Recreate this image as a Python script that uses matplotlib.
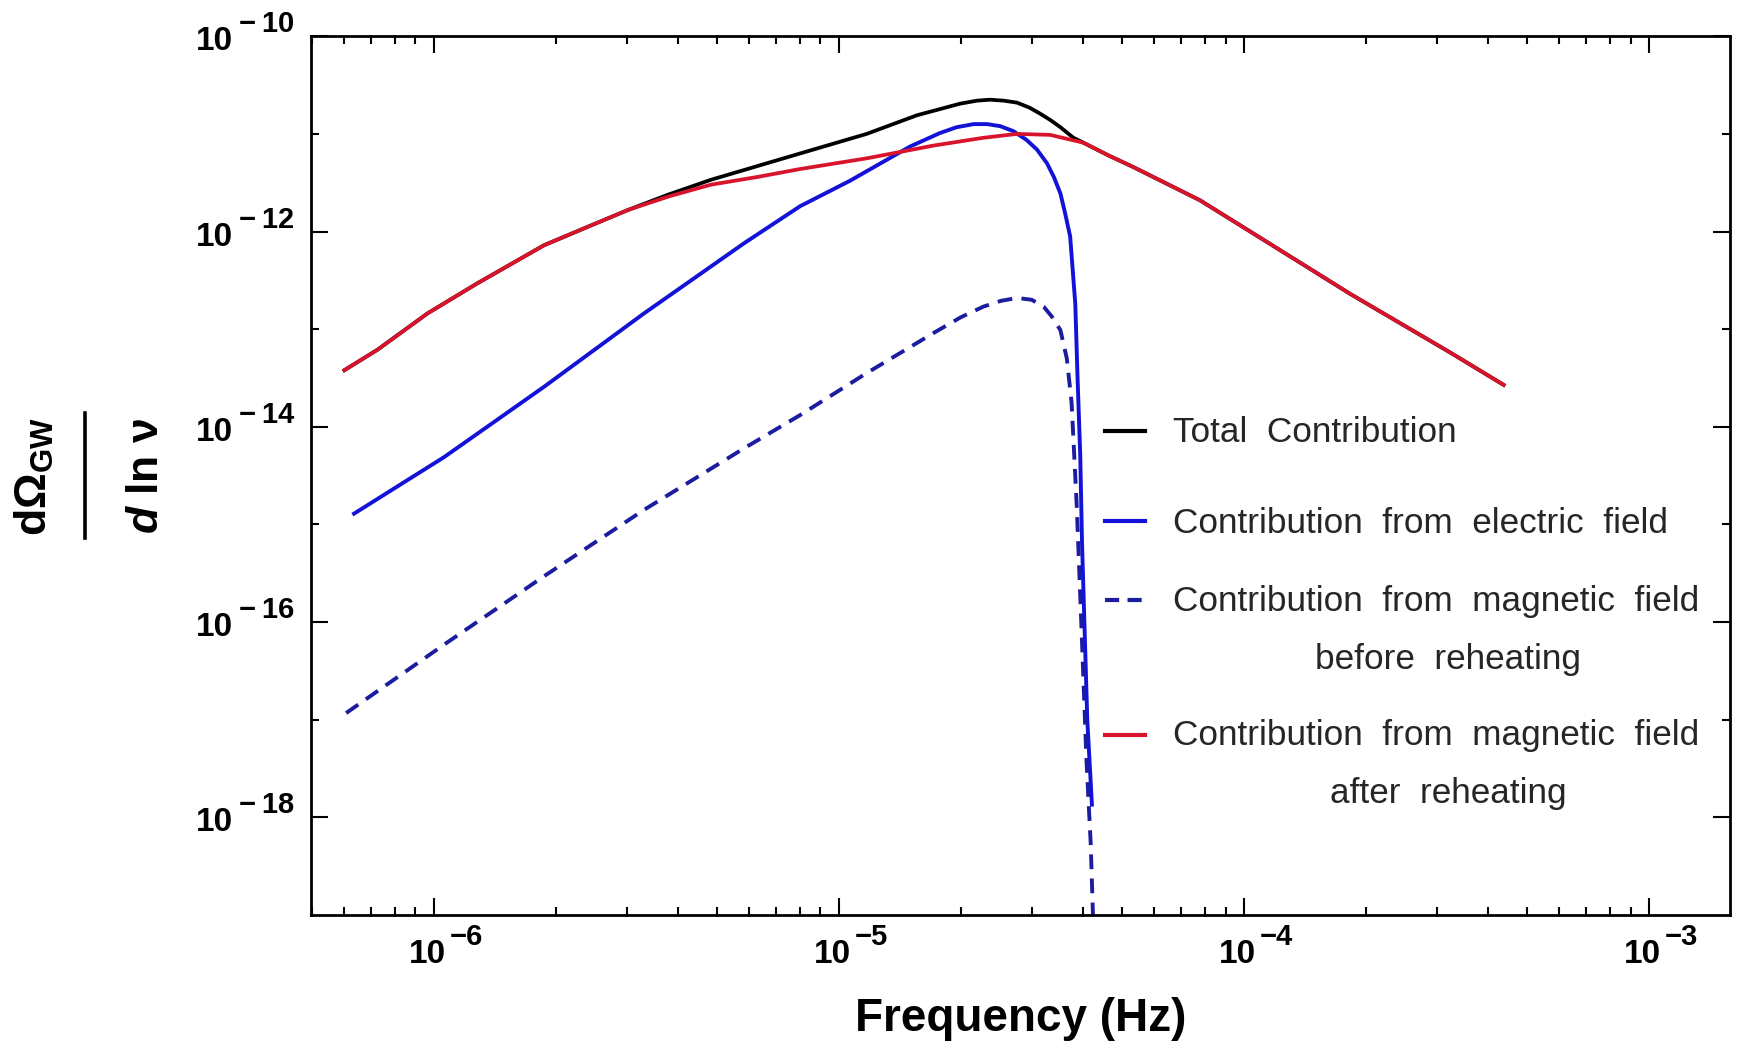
import matplotlib
matplotlib.use('Agg')
import matplotlib.pyplot as plt
from matplotlib.lines import Line2D
from matplotlib.ticker import FixedLocator, LogLocator, NullFormatter
from matplotlib.transforms import blended_transform_factory, offset_copy

plt.rcParams['font.family'] = ['Liberation Sans', 'DejaVu Sans']
plt.rcParams['mathtext.fontset'] = 'custom'
plt.rcParams['mathtext.rm'] = 'Liberation Sans'
plt.rcParams['mathtext.it'] = 'Liberation Sans:italic'
plt.rcParams['mathtext.bf'] = 'Liberation Sans:bold'
plt.rcParams['mathtext.bfit'] = 'Liberation Sans:bold:italic'

# values (frequency in Hz, dOmega/dln nu)
freq_total = [6.01e-7, 7.26e-7, 9.64e-7, 1.28e-6, 1.87e-6, 2.40e-6, 3.01e-6, 3.80e-6, 4.83e-6,
              8.02e-6, 1.17e-5, 1.556e-5, 1.99e-5, 2.19e-5, 2.36e-5, 2.55e-5, 2.75e-5, 2.95e-5,
              3.13e-5, 3.33e-5, 3.52e-5, 3.79e-5, 4.01e-5, 4.62e-5, 5.33e-5, 7.78e-5, 1.035e-4,
              1.83e-4, 3.23e-4, 4.37e-4]
omega_total = [3.80e-14, 6.17e-14, 1.45e-13, 2.95e-13, 7.24e-13, 1.12e-12, 1.66e-12, 2.40e-12, 3.39e-12,
               6.31e-12, 1.00e-11, 1.55e-11, 2.04e-11, 2.19e-11, 2.24e-11, 2.19e-11, 2.09e-11, 1.86e-11,
               1.62e-11, 1.38e-11, 1.17e-11, 9.12e-12, 8.13e-12, 6.03e-12, 4.57e-12, 2.09e-12, 1.00e-12,
               2.29e-13, 5.75e-14, 2.69e-14]

freq_electric = [6.35e-7, 1.06e-6, 1.87e-6, 3.30e-6, 5.83e-6, 8.02e-6, 1.064e-5, 1.496e-5,
                 1.774e-5, 1.95e-5, 2.15e-5, 2.32e-5, 2.50e-5, 2.69e-5, 2.90e-5, 3.08e-5,
                 3.26e-5, 3.39e-5, 3.52e-5, 3.61e-5, 3.72e-5, 3.83e-5,
                 3.88e-5, 3.94e-5, 3.98e-5, 4.04e-5, 4.10e-5, 4.21e-5]
omega_electric = [1.29e-15, 4.90e-15, 2.57e-14, 1.45e-13, 7.59e-13, 1.82e-12, 3.31e-12, 7.41e-12,
                  1.02e-11, 1.17e-11, 1.26e-11, 1.26e-11, 1.20e-11, 1.07e-11, 8.71e-12, 6.92e-12,
                  5.01e-12, 3.63e-12, 2.45e-12, 1.58e-12, 8.91e-13, 1.82e-13,
                  3.16e-14, 5.01e-15, 6.31e-16, 7.94e-17, 1.00e-17, 1.35e-18]

freq_mag_before = [6.07e-7, 1.06e-6, 1.87e-6, 3.30e-6, 5.83e-6, 8.02e-6, 1.17e-5, 1.71e-5,
                   1.995e-5, 2.27e-5, 2.51e-5, 2.75e-5, 2.99e-5, 3.20e-5, 3.35e-5, 3.52e-5,
                   3.65e-5, 3.75e-5, 3.86e-5, 3.97e-5, 4.08e-5, 4.18e-5, 4.25e-5]
omega_mag_before = [1.17e-17, 5.89e-17, 2.95e-16, 1.41e-15, 6.03e-15, 1.32e-14, 3.55e-14, 9.12e-14,
                    1.32e-13, 1.70e-13, 1.95e-13, 2.09e-13, 2.00e-13, 1.70e-13, 1.35e-13, 9.77e-14,
                    5.01e-14, 1.78e-14, 1.62e-15, 8.13e-17, 3.98e-18, 5.50e-19, 6.3e-20]

freq_mag_after = [6.01e-7, 7.26e-7, 9.64e-7, 1.28e-6, 1.87e-6, 2.40e-6, 3.01e-6, 3.80e-6, 4.83e-6,
                  6.31e-6, 8.02e-6, 1.17e-5, 1.71e-5, 2.27e-5, 2.75e-5, 3.32e-5, 4.01e-5,
                  4.62e-5, 5.33e-5, 7.78e-5, 1.035e-4, 1.83e-4, 3.23e-4, 4.37e-4]
omega_mag_after = [3.80e-14, 6.17e-14, 1.45e-13, 2.95e-13, 7.24e-13, 1.12e-12, 1.66e-12, 2.29e-12, 3.02e-12,
                   3.63e-12, 4.37e-12, 5.62e-12, 7.59e-12, 9.12e-12, 1.00e-11, 9.77e-12, 8.13e-12,
                   6.03e-12, 4.57e-12, 2.09e-12, 1.00e-12, 2.29e-13, 5.75e-14, 2.69e-14]

x_major = [1e-6, 1e-5, 1e-4, 1e-3]
x_exponents = ['6', '5', '4', '3']
y_major = [1e-18, 1e-16, 1e-14, 1e-12, 1e-10]
y_exponents = ['18', '16', '14', '12', '10']
y_minor = [1e-17, 1e-15, 1e-13, 1e-11]

c_total = '#000000'
c_electric = '#1212d8'
c_before = '#1c1ca0'
c_after = '#d8142c'
c_text = '#262626'

fig = plt.figure(figsize=(17.37, 10.48), dpi=100)
ax = fig.add_axes([0.1790, 0.1269, 0.8168, 0.8385])

ax.plot(freq_total, omega_total, color=c_total, lw=2.7)
ax.plot(freq_electric, omega_electric, color=c_electric, lw=2.8)
ax.plot(freq_mag_before, omega_mag_before, color=c_before, lw=2.8, dashes=(3.8, 2.4))
ax.plot(freq_mag_after, omega_mag_after, color=c_after, lw=2.7)

ax.set_xscale('log')
ax.set_yscale('log')
ax.set_xlim(4.97e-7, 1.58e-3)
ax.set_ylim(1e-19, 1e-10)

ax.xaxis.set_major_locator(FixedLocator(x_major))
ax.xaxis.set_major_formatter(NullFormatter())
ax.xaxis.set_minor_locator(LogLocator(base=10, subs=range(2, 10), numticks=20))
ax.xaxis.set_minor_formatter(NullFormatter())
ax.yaxis.set_major_locator(FixedLocator(y_major))
ax.yaxis.set_major_formatter(NullFormatter())
ax.yaxis.set_minor_locator(FixedLocator(y_minor))
ax.yaxis.set_minor_formatter(NullFormatter())

ax.tick_params(which='both', direction='in', top=True, right=True, width=1.5, colors='black')
ax.tick_params(which='major', length=12)
ax.tick_params(which='minor', length=6)
for s in ax.spines.values():
    s.set_linewidth(2.0)

# tick labels in the "10 with raised exponent" style of the reference
ytr = blended_transform_factory(ax.transAxes, ax.transData)
for val, exp in zip(y_major, y_exponents):
    ax.text(0, val, '10', transform=offset_copy(ytr, fig=fig, x=-78, y=-14, units='dots'),
            ha='right', va='baseline', fontsize=24, fontweight='bold')
    ax.text(0, val, '\u2212\u2009' + exp, transform=offset_copy(ytr, fig=fig, x=-72, y=4, units='dots'),
            ha='left', va='baseline', fontsize=21, fontweight='bold')

xtr = blended_transform_factory(ax.transData, ax.transAxes)
for val, exp in zip(x_major, x_exponents):
    ax.text(val, 0, '10', transform=offset_copy(xtr, fig=fig, x=12, y=-48, units='dots'),
            ha='right', va='baseline', fontsize=24, fontweight='bold')
    ax.text(val, 0, '\u2212' + exp, transform=offset_copy(xtr, fig=fig, x=16, y=-30, units='dots'),
            ha='left', va='baseline', fontsize=21, fontweight='bold')

ax.set_xlabel('Frequency (Hz)', fontsize=33, fontweight='bold')
ax.xaxis.set_label_coords(0.5, -0.093)

# y label as a stacked fraction
fig.text(0.0196, 0.5455, r'$\mathbf{d\Omega_{GW}}$', rotation=90, fontsize=32,
         ha='center', va='center')
fig.add_artist(Line2D([0.0492, 0.0492], [0.4866, 0.6059], transform=fig.transFigure,
                      color='black', lw=2.6))
fig.text(0.0843, 0.5455, r'$\mathbfit{d}\ \mathbf{ln}\ \mathbf{\nu}$', rotation=90, fontsize=32,
         ha='center', va='center')

# legend drawn inside the axes, as in the reference
legend_rows = [
    ('Total  Contribution', None, c_total, '-', 0.551, 0.5386),
    ('Contribution  from  electric  field', None, c_electric, '-', 0.448, 0.4344),
    ('Contribution  from  magnetic  field', 'before  reheating', c_before, '--', 0.358, 0.3463),
    ('Contribution  from  magnetic  field', 'after  reheating', c_after, '-', 0.205, 0.1935),
]
second_line_drop = 0.066
for first, second, color, style, y_handle, y_base in legend_rows:
    kw = dict(dashes=(3.4, 2.0)) if style == '--' else {}
    ax.add_line(Line2D([0.5596, 0.5878], [y_handle, y_handle], transform=ax.transAxes,
                       color=color, lw=3, **kw))
    ax.text(0.6076, y_base, first, transform=ax.transAxes, fontsize=25.3,
            color=c_text, ha='left', va='baseline')
    if second:
        ax.text(0.8017, y_base - second_line_drop, second, transform=ax.transAxes,
                fontsize=25.3, color=c_text, ha='center', va='baseline')

fig.savefig('out.png', dpi=100)
